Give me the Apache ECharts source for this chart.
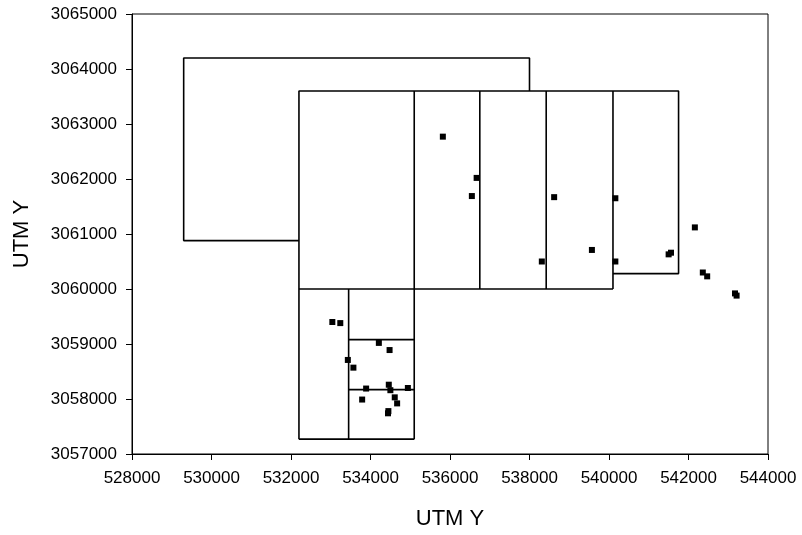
<!DOCTYPE html>
<html>
<head>
<meta charset="utf-8">
<script src="https://cdn.jsdelivr.net/npm/echarts@6/dist/echarts.min.js"></script>
<style>
html,body{margin:0;padding:0;background:#fff;}
#chart{width:802px;height:535px;}
</style>
</head>
<body>
<div id="chart"></div>
<script>
// Axis settings
const xMin = 528000, xMax = 544000, xStep = 2000;
const yMin = 3057000, yMax = 3065000, yStep = 1000;
const xTitle = 'UTM Y';
const yTitle = 'UTM Y';

// Zone outlines (polylines, data coordinates)
const bigBlock = [[538000,3063600],[538000,3064200],[529300,3064200],[529300,3060880],[532200,3060880]];
const gridOutline = [[532200,3057270],[532200,3063600],[541750,3063600],[541750,3060280],[540100,3060280]];
const rowBottom = [[532200,3060000],[540100,3060000]];
const vert1 = [[535100,3063600],[535100,3057270]];
const vert2 = [[536750,3063600],[536750,3060000]];
const vert3 = [[538420,3063600],[538420,3060000]];
const vert4 = [[540100,3063600],[540100,3060000]];
const lowerBottom = [[532200,3057270],[535100,3057270]];
const lowerVert = [[533450,3060000],[533450,3057270]];
const lowerH1 = [[533450,3059080],[535100,3059080]];
const lowerH2 = [[533450,3058170],[535100,3058170]];

// Sample points
const pointX = [535820,536670,536550,538620,538310,539570,540160,540160,541500,541560,542160,542360,542470,543170,543210,
                533040,533240,534210,534480,533430,533570,533890,534460,534500,534940,533790,534610,534670,534440,534450];
const pointY = [3062770,3062020,3061690,3061670,3060500,3060710,3061650,3060500,3060630,3060660,3061120,3060300,3060230,3059920,3059880,
                3059400,3059380,3059020,3058890,3058710,3058570,3058190,3058260,3058160,3058200,3057990,3058030,3057920,3057740,3057780];

const outlines = [bigBlock, gridOutline, rowBottom, vert1, vert2, vert3, vert4, lowerBottom, lowerVert, lowerH1, lowerH2];

const font = "'Liberation Sans', Arial, sans-serif";
const chart = echarts.init(document.getElementById('chart'), null, {renderer:'canvas'});

const series = outlines.map(function(p){
  return {
    type:'line', data:p, symbol:'none', animation:false, silent:true,
    lineStyle:{color:'#000', width:1.6}, z:2
  };
});
series.push({
  type:'scatter',
  data: pointX.map(function(x,i){return [x, pointY[i]];}),
  symbol:'rect', symbolSize:6, itemStyle:{color:'#000', opacity:1}, animation:false, z:3
});

function plain(v){ return String(v); }

chart.setOption({
  backgroundColor:'#fff',
  animation:false,
  grid:{left:132, right:34, top:14, bottom:78, show:true, borderColor:'#000', borderWidth:1, backgroundColor:'transparent'},
  xAxis:{
    type:'value', min:xMin, max:xMax, interval:xStep,
    name:xTitle, nameLocation:'middle', nameGap:54,
    nameTextStyle:{fontFamily:font, fontSize:22, color:'#000'},
    axisLine:{show:true, lineStyle:{color:'#000', width:1}},
    axisTick:{show:true, inside:false, length:6, lineStyle:{color:'#000'}},
    axisLabel:{fontFamily:font, fontSize:17, color:'#000', margin:16, formatter:plain},
    splitLine:{show:false}
  },
  yAxis:{
    type:'value', min:yMin, max:yMax, interval:yStep,
    name:yTitle, nameLocation:'middle', nameGap:99,
    nameTextStyle:{fontFamily:font, fontSize:22, color:'#000'},
    axisLine:{show:true, lineStyle:{color:'#000', width:1}},
    axisTick:{show:true, inside:false, length:6, lineStyle:{color:'#000'}},
    axisLabel:{fontFamily:font, fontSize:17, color:'#000', margin:15, formatter:plain},
    splitLine:{show:false}
  },
  series:series
});
</script>
</body>
</html>
